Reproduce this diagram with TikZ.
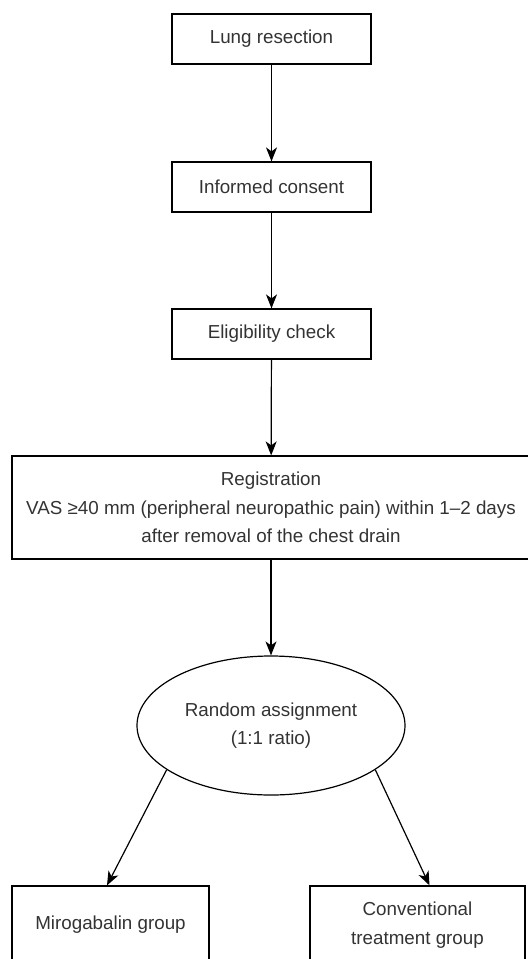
\documentclass[tikz,border=0pt]{standalone}
\usepackage{fontspec}
\setmainfont{Liberation Sans}
\usetikzlibrary{arrows.meta,shapes.geometric}

\definecolor{labelgray}{gray}{0.2}

\tikzset{
  stagebox/.style={draw, line width=0.6pt, align=center, inner sep=0pt, text=labelgray},
  flowarrow/.style={line width=0.6pt, -{Stealth[length=7pt,width=5.5pt,inset=2pt]}}
}

\begin{document}
\begin{tikzpicture}[x=0.5pt, y=-0.5pt, font=\fontsize{9.4}{14.3}\selectfont]
        \clip (0,0) rectangle (528,959);
        \node[stagebox, minimum width=99.5pt, minimum height=25pt] (lung) at (271.5,39) {Lung resection};
        \node[stagebox, minimum width=99.5pt, minimum height=25pt] (consent) at (271.5,187) {Informed consent};
        \node[stagebox, minimum width=99.5pt, minimum height=25pt] (elig) at (271.5,334) {Eligibility check};
        \node[stagebox, minimum width=259pt, minimum height=51.5pt] (reg) at (271,507.5) {Registration\\VAS ≥40 mm (peripheral neuropathic pain) within 1–2 days\\after removal of the chest drain};
        \node[stagebox, ellipse, minimum width=134pt, minimum height=69.5pt] (rand) at (271,725.5) {Random assignment\\(1:1 ratio)};
        \node[stagebox, minimum width=98.5pt, minimum height=39pt] (miro) at (110.5,925) {Mirogabalin group};
        \node[stagebox, minimum width=107.5pt, minimum height=39pt] (conv) at (417.5,925) {Conventional\\treatment group};
        % arrows
        \draw[flowarrow] (lung) -- (consent);
        \draw[flowarrow] (consent) -- (elig);
        \draw[flowarrow] (elig) -- (reg);
        \draw[flowarrow] (reg.south -| rand.north) -- (rand);
        \draw[flowarrow] (rand.203) -- ([xshift=-1.75pt]miro.north);
        \draw[flowarrow] (rand.337) -- ([xshift=6pt]conv.north);
    \end{tikzpicture}
\end{document}
